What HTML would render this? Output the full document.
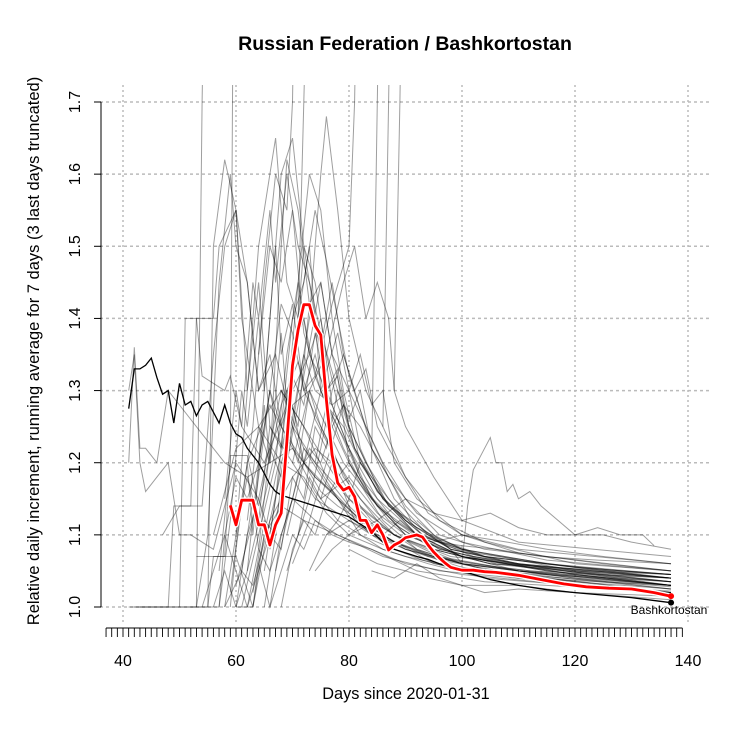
<!DOCTYPE html>
<html><head><meta charset="utf-8"><style>
html,body{margin:0;padding:0;background:#fff}
svg{display:block;font-family:"Liberation Sans",sans-serif}
</style></head><body>
<svg id="chart" width="750" height="750" viewBox="0 0 750 750" xmlns="http://www.w3.org/2000/svg">
<text x="405" y="50" text-anchor="middle" font-size="19.5" font-weight="bold">Russian Federation / Bashkortostan</text>
<text x="406" y="699" text-anchor="middle" font-size="16.3">Days since 2020-01-31</text>
<text transform="translate(39,351) rotate(-90)" text-anchor="middle" font-size="16.5">Relative daily increment, running average for 7 days (3 last days truncated)</text>
<g id="grid"></g>
<g id="axes"></g>
<defs><clipPath id="plotclip"><rect x="100" y="85" width="612" height="540"/></clipPath></defs>
<g id="series" clip-path="url(#plotclip)"></g>
<text x="669" y="614" text-anchor="middle" font-size="12">Bashkortostan</text>
</svg>
<script>
const xTicks=[40,60,80,100,120,140];
const yTicks=[1.0,1.1,1.2,1.3,1.4,1.5,1.6,1.7];
const yTickLabels=["1.0","1.1","1.2","1.3","1.4","1.5","1.6","1.7"];
const bashkDays=[59,60,61,62,63,64,65,66,67,68,69,70,71,72,73,74,75,76,77,78,79,80,81,82,83,84,85,86,87,88,89,90,91,92,93,94,95,96,97,98,99,100,102,104,106,110,114,118,122,126,130,134,137];
const bashkVals=[1.141,1.114,1.148,1.148,1.148,1.114,1.114,1.086,1.114,1.13,1.23,1.335,1.384,1.419,1.419,1.39,1.377,1.287,1.211,1.172,1.162,1.166,1.153,1.12,1.12,1.103,1.114,1.1,1.079,1.086,1.09,1.096,1.098,1.1,1.097,1.086,1.076,1.068,1.061,1.055,1.053,1.051,1.051,1.049,1.048,1.044,1.038,1.032,1.028,1.026,1.025,1.02,1.015];
const rusDays=[41,42,43,44,45,46,47,48,49,50,51,52,53,54,55,56,57,58,59,60,61,62,63,64,65,66,67,68,70,72,74,76,78,80,82,84,86,88,90,92,94,96,98,100,105,110,115,120,130,137];
const rusVals=[1.275,1.33,1.33,1.335,1.345,1.318,1.295,1.3,1.255,1.31,1.28,1.285,1.265,1.28,1.285,1.27,1.255,1.28,1.255,1.24,1.235,1.22,1.21,1.2,1.185,1.17,1.16,1.155,1.15,1.145,1.14,1.135,1.13,1.125,1.115,1.105,1.09,1.08,1.075,1.07,1.066,1.06,1.055,1.05,1.038,1.03,1.024,1.02,1.013,1.006];
const regions=[
[[41,1.2],[42,1.36],[43,1.22],[44,1.22],[46,1.2],[48,1.3],[50,1.28],[54,1.24],[58,1.2],[62,1.18],[66,1.2],[70,1.22],[74,1.18],[78,1.15],[82,1.12],[88,1.09],[95,1.07],[105,1.05],[120,1.035],[137,1.02]],
[[41,1.3],[42,1.35],[43,1.2],[44,1.16],[46,1.18],[48,1.2],[50,1.1],[52,1.1],[56,1.08],[60,1.2],[64,1.15],[68,1.3],[72,1.25],[76,1.2],[80,1.15],[86,1.1],[95,1.06],[110,1.04],[137,1.02]],
[[42,1.0],[48,1.0],[49,1.14],[52,1.14],[53,1.4],[56,1.4],[57,1.5],[60,1.55],[62,1.3],[64,1.45],[66,1.25],[70,1.2],[74,1.15],[80,1.12],[90,1.08],[100,1.06],[120,1.04],[137,1.03]],
[[43,1.0],[50,1.0],[51,1.4],[53,1.4],[54,1.32],[58,1.3],[59,1.32],[61,1.25],[65,1.2],[70,1.3],[73,1.35],[76,1.3],[80,1.22],[85,1.15],[92,1.1],[100,1.07],[115,1.05],[137,1.03]],
[[47,1.1],[50,1.14],[54,1.14],[56,1.35],[58,1.5],[60,1.55],[62,1.45],[64,1.3],[66,1.35],[68,1.25],[72,1.2],[78,1.15],[85,1.1],[95,1.07],[110,1.05],[137,1.03]],
[[52,1.0],[53,1.0],[54,1.7],[55,2.2]],
[[53,1.0],[55,1.1],[57,1.45],[59,1.6],[60,1.5],[62,1.45],[64,1.3],[67,1.35],[70,1.25],[74,1.2],[80,1.15],[88,1.1],[100,1.06],[120,1.04],[137,1.025]],
[[55,1.0],[56,1.5],[58,1.62],[60,1.55],[61,1.4],[64,1.25],[68,1.3],[72,1.22],[76,1.17],[82,1.12],[90,1.08],[105,1.05],[137,1.02]],
[[57,1.05],[59,1.2],[60,2.5]],
[[58,1.0],[60,1.1],[62,1.3],[64,1.5],[66,1.6],[67,1.65],[69,1.45],[71,1.4],[73,1.5],[75,1.3],[78,1.25],[82,1.18],[88,1.12],[95,1.08],[110,1.05],[137,1.03]],
[[59,1.02],[61,1.15],[63,1.25],[65,1.45],[67,1.6],[69,1.55],[70,1.7],[71,2.2]],
[[60,1.0],[62,1.05],[64,1.2],[66,1.4],[68,1.6],[70,1.65],[72,1.5],[74,1.4],[76,1.3],[78,1.32],[80,1.2],[84,1.15],[90,1.1],[100,1.07],[120,1.045],[137,1.03]],
[[60,1.03],[63,1.12],[66,1.3],[68,1.42],[70,1.38],[72,1.3],[74,1.35],[77,1.25],[80,1.2],[85,1.14],[92,1.1],[100,1.07],[115,1.05],[137,1.035]],
[[61,1.0],[64,1.1],[67,1.2],[69,1.35],[71,1.45],[73,1.6],[75,1.55],[77,1.4],[79,1.3],[82,1.2],[86,1.15],[92,1.1],[100,1.08],[120,1.05],[137,1.04]],
[[62,1.05],[65,1.15],[68,1.25],[70,1.3],[72,1.5],[74,1.45],[76,1.35],[78,1.28],[81,1.22],[85,1.16],[90,1.12],[98,1.08],[110,1.06],[137,1.04]],
[[63,1.0],[66,1.12],[69,1.22],[72,1.35],[74,1.3],[77,1.28],[80,1.3],[82,1.22],[86,1.15],[92,1.1],[100,1.07],[137,1.03]],
[[64,1.06],[67,1.18],[70,1.28],[73,1.3],[76,1.25],[79,1.2],[82,1.17],[86,1.12],[92,1.08],[100,1.06],[137,1.03]],
[[65,1.0],[67,1.1],[69,1.2],[71,1.4],[72,1.7],[73,2.0]],
[[66,1.08],[69,1.2],[72,1.32],[75,1.45],[77,1.35],[80,1.3],[83,1.25],[86,1.2],[90,1.15],[96,1.1],[104,1.08],[137,1.05]],
[[67,1.1],[70,1.25],[73,1.4],[75,1.6],[76,1.68],[78,1.55],[80,1.4],[83,1.3],[86,1.25],[90,1.18],[96,1.12],[104,1.09],[120,1.06],[137,1.05]],
[[69,1.1],[72,1.2],[75,1.3],[78,1.38],[80,1.3],[82,1.35],[84,1.28],[86,1.3],[88,1.2],[92,1.15],[100,1.1],[110,1.08],[137,1.06]],
[[70,1.2],[73,1.3],[76,1.35],[79,1.45],[81,1.5],[83,1.4],[85,1.45],[87,1.4],[88,1.3],[90,1.25],[95,1.18],[100,1.12],[110,1.09],[137,1.07]],
[[70,1.06],[73,1.12],[76,1.2],[79,1.28],[82,1.25],[84,1.22],[87,1.18],[90,1.14],[95,1.1],[100,1.08],[115,1.06],[137,1.04]],
[[72,1.3],[74,1.32],[77,1.42],[80,1.5],[81,1.7],[82,2.2]],
[[84,1.2],[85,1.7],[86,2.2]],
[[86,1.25],[87,1.7],[88,2.2]],
[[88,1.3],[89,1.7],[90,2.2]],
[[92,1.12],[98,1.08],[100,1.06],[101,1.14],[102,1.19],[104,1.22],[105,1.235],[106,1.2],[107,1.2],[108,1.16],[109,1.17],[110,1.15],[112,1.16],[114,1.14],[117,1.12],[120,1.1],[124,1.11],[128,1.1],[132,1.1],[134,1.085]],
[[80,1.1],[85,1.12],[90,1.15],[95,1.13],[100,1.12],[105,1.13],[110,1.11],[115,1.1],[120,1.1],[125,1.1],[130,1.09],[137,1.08]],
[[75,1.15],[80,1.18],[85,1.13],[90,1.1],[95,1.09],[100,1.1],[108,1.09],[115,1.08],[125,1.07],[137,1.06]],
[[80,1.08],[85,1.06],[90,1.05],[94,1.04],[100,1.03],[110,1.03],[120,1.02],[137,1.01]],
[[84,1.05],[88,1.04],[92,1.06],[96,1.04],[104,1.02],[110,1.025],[120,1.02],[137,1.015]],
[[74,1.2],[78,1.15],[82,1.1],[86,1.08],[90,1.07],[96,1.06],[104,1.05],[114,1.045],[126,1.04],[137,1.035]],
[[68,1.3],[72,1.25],[76,1.18],[80,1.14],[84,1.11],[88,1.09],[94,1.07],[102,1.06],[112,1.05],[124,1.045],[137,1.04]],
[[62,1.2],[66,1.28],[70,1.22],[74,1.16],[78,1.12],[82,1.1],[88,1.08],[96,1.06],[106,1.045],[120,1.035],[137,1.025]],
[[56,1.1],[60,1.22],[64,1.25],[68,1.2],[72,1.18],[76,1.13],[80,1.1],[86,1.08],[94,1.06],[104,1.04],[120,1.03],[137,1.02]],
[[50,1.0],[57,1.0],[58,1.1],[62,1.0],[64,1.08],[66,1.05],[70,1.15],[74,1.12],[78,1.1],[84,1.08],[92,1.05],[104,1.035],[137,1.02]],
[[41,1.0],[55,1.0],[56,1.07],[60,1.07],[63,1.0],[65,1.1],[68,1.14],[72,1.12],[78,1.1],[86,1.07],[96,1.05],[137,1.02]],
[[58,1.0],[61,1.05],[63,1.03],[66,1.12],[70,1.18],[74,1.22],[77,1.2],[80,1.16],[84,1.12],[88,1.1],[95,1.08],[105,1.06],[137,1.045]],
[[53,1.07],[58,1.07],[59,1.21],[62,1.21],[64,1.14],[68,1.28],[71,1.34],[74,1.26],[78,1.2],[82,1.15],[88,1.1],[98,1.07],[137,1.035]],
[[73,1.05],[76,1.1],[80,1.12],[84,1.1],[88,1.09],[92,1.1],[96,1.08],[102,1.07],[110,1.06],[122,1.05],[137,1.045]],
[[64,1.35],[66,1.5],[68,1.45],[70,1.55],[72,1.38],[75,1.3],[79,1.22],[83,1.16],[88,1.12],[96,1.08],[108,1.06],[137,1.04]],
[[57,1.0],[59,1.12],[61,1.3],[62,1.25],[64,1.4],[65,1.3],[67,1.5],[68,1.35],[70,1.42],[72,1.3],[75,1.25],[78,1.2],[82,1.14],[88,1.1],[96,1.07],[110,1.05],[137,1.035]],
[[59,1.0],[60,1.08],[62,1.2],[63,1.1],[65,1.28],[66,1.2],[68,1.38],[69,1.28],[71,1.45],[73,1.35],[75,1.4],[77,1.28],[80,1.22],[84,1.15],[90,1.1],[100,1.07],[120,1.045],[137,1.03]],
[[61,1.05],[63,1.15],[64,1.08],[66,1.22],[68,1.18],[70,1.32],[72,1.28],[74,1.38],[76,1.3],[78,1.33],[80,1.25],[83,1.2],[87,1.14],[93,1.1],[102,1.07],[118,1.05],[137,1.035]],
[[62,1.0],[64,1.05],[66,1.1],[68,1.08],[70,1.18],[72,1.15],[74,1.25],[76,1.22],[78,1.3],[80,1.26],[82,1.3],[84,1.22],[87,1.18],[91,1.12],[98,1.08],[110,1.06],[137,1.04]],
[[63,1.02],[65,1.12],[67,1.1],[69,1.25],[71,1.2],[73,1.3],[75,1.25],[77,1.22],[79,1.18],[82,1.15],[86,1.11],[92,1.08],[100,1.06],[115,1.045],[137,1.03]],
[[65,1.05],[67,1.15],[69,1.3],[71,1.25],[73,1.42],[75,1.36],[77,1.45],[79,1.35],[81,1.3],[84,1.22],[88,1.15],[94,1.1],[104,1.07],[125,1.05],[137,1.04]],
[[66,1.0],[68,1.1],[70,1.15],[72,1.22],[74,1.2],[76,1.28],[78,1.25],[80,1.22],[82,1.18],[85,1.14],[89,1.11],[95,1.08],[105,1.06],[137,1.035]],
[[58,1.15],[60,1.3],[61,1.25],[63,1.45],[64,1.4],[66,1.55],[67,1.45],[69,1.6],[71,1.5],[73,1.45],[75,1.38],[78,1.3],[81,1.22],[85,1.16],[90,1.12],[98,1.08],[112,1.055],[137,1.04]],
[[56,1.0],[58,1.05],[60,1.0],[62,1.1],[64,1.15],[66,1.1],[68,1.2],[70,1.25],[72,1.2],[74,1.18],[77,1.16],[80,1.13],[84,1.1],[90,1.08],[100,1.055],[118,1.04],[137,1.025]],
[[60,1.1],[62,1.18],[64,1.12],[66,1.25],[68,1.22],[70,1.35],[72,1.4],[74,1.32],[76,1.28],[79,1.25],[82,1.2],[86,1.15],[92,1.11],[100,1.08],[115,1.06],[137,1.045]],
[[67,1.05],[69,1.12],[71,1.18],[73,1.22],[75,1.2],[77,1.25],[79,1.28],[81,1.22],[84,1.18],[87,1.14],[91,1.12],[96,1.09],[104,1.07],[120,1.055],[137,1.045]],
[[68,1.0],[70,1.08],[72,1.12],[74,1.1],[76,1.15],[78,1.18],[80,1.2],[82,1.17],[84,1.15],[87,1.12],[91,1.1],[97,1.08],[106,1.06],[125,1.045],[137,1.04]],
[[71,1.1],[73,1.15],[75,1.22],[77,1.3],[79,1.35],[81,1.3],[83,1.33],[85,1.25],[87,1.22],[90,1.18],[94,1.13],[100,1.1],[110,1.075],[125,1.06],[137,1.05]],
[[64,1.2],[66,1.3],[68,1.25],[70,1.4],[72,1.45],[74,1.55],[76,1.48],[78,1.4],[80,1.32],[83,1.25],[87,1.18],[92,1.13],[100,1.09],[115,1.065],[137,1.05]],
[[76,1.1],[78,1.12],[80,1.15],[82,1.2],[84,1.18],[86,1.16],[88,1.14],[90,1.12],[93,1.1],[97,1.085],[104,1.07],[115,1.06],[128,1.05],[137,1.045]],
[[60,1.0],[63,1.0],[64,1.06],[66,1.0],[68,1.05],[70,1.1],[72,1.08],[74,1.12],[77,1.1],[80,1.09],[84,1.08],[90,1.06],[100,1.045],[120,1.03],[137,1.022]],
[[54,1.0],[56,1.05],[58,1.1],[60,1.18],[62,1.15],[64,1.2],[66,1.3],[68,1.22],[70,1.28],[72,1.2],[75,1.16],[78,1.14],[82,1.12],[88,1.09],[96,1.065],[110,1.045],[137,1.028]],
[[69,1.05],[71,1.1],[73,1.18],[75,1.15],[77,1.2],[79,1.16],[81,1.12],[84,1.1],[88,1.08],[93,1.065],[100,1.05],[112,1.04],[137,1.03]],
[[62,1.12],[64,1.25],[66,1.2],[68,1.5],[69,1.62],[71,1.55],[73,1.42],[75,1.45],[77,1.35],[80,1.25],[83,1.2],[87,1.15],[93,1.1],[102,1.075],[120,1.055],[137,1.045]],
[[74,1.05],[77,1.08],[80,1.1],[83,1.12],[86,1.1],[89,1.12],[92,1.1],[96,1.09],[100,1.085],[106,1.08],[114,1.07],[124,1.065],[137,1.06]]
];
const X0=40,X1=140,PX0=123,PX1=688,Y0=1.0,Y1=1.7,PY0=607,PY1=102;
const xs=d=>PX0+(d-X0)*(PX1-PX0)/(X1-X0);
const ys=v=>PY0+(v-Y0)*(PY1-PY0)/(Y1-Y0);
const NS="http://www.w3.org/2000/svg";
function mk(tag,attrs,parent){const e=document.createElementNS(NS,tag);for(const k in attrs)e.setAttribute(k,attrs[k]);parent.appendChild(e);return e;}
const grid=document.getElementById('grid'),axes=document.getElementById('axes'),series=document.getElementById('series');
xTicks.forEach(t=>{const l=mk('line',{x1:xs(t),x2:xs(t),y1:85,y2:625,stroke:'#bbb','stroke-dasharray':'2,3','stroke-width':1.5},grid);

});
yTicks.forEach(t=>{const l=mk('line',{x1:100,x2:712,y1:ys(t),y2:ys(t),stroke:'#bbb','stroke-dasharray':'3,3','stroke-width':1.5},grid);

});
const ya=mk('line',{x1:101,x2:101,y1:ys(1.7),y2:ys(1.0),stroke:'#000'},axes);


yTicks.forEach((t,i)=>{mk('line',{x1:94,x2:101,y1:ys(t),y2:ys(t),stroke:'#000'},axes);
const tx=mk('text',{transform:`translate(80,${ys(t)}) rotate(-90)`,'text-anchor':'middle','font-size':16},axes);tx.textContent=yTickLabels[i];

});
const xa=mk('line',{x1:xs(37),x2:xs(139),y1:628,y2:628,stroke:'#000'},axes);


for(let d=37;d<=139;d++)mk('line',{x1:xs(d),x2:xs(d),y1:628,y2:637,stroke:'#000','stroke-width':0.9},axes);
xTicks.forEach(t=>{const tx=mk('text',{x:xs(t),y:666,'text-anchor':'middle','font-size':16},axes);tx.textContent=t;

});
const pts=(d,v)=>d.map((x,i)=>xs(x).toFixed(1)+','+ys(v[i]).toFixed(1)).join(' ');
regions.forEach(r=>{const p=mk('polyline',{points:r.map(q=>xs(q[0]).toFixed(1)+','+ys(q[1]).toFixed(1)).join(' '),fill:'none',stroke:'rgba(0,0,0,0.38)','stroke-width':1},series);

});
const rl=mk('polyline',{points:pts(rusDays,rusVals),fill:'none',stroke:'#000','stroke-width':1.3},series);


const bw=mk('polyline',{points:pts(bashkDays,bashkVals),fill:'none',stroke:'#fff','stroke-width':5.5,'stroke-linejoin':'round'},series);


const bl=mk('polyline',{points:pts(bashkDays,bashkVals),fill:'none',stroke:'#f00','stroke-width':2.8,'stroke-linejoin':'round'},series);


const rd=mk('circle',{cx:xs(rusDays[rusDays.length-1]),cy:ys(rusVals[rusVals.length-1]),r:3,fill:'#000'},series);


const bd=mk('circle',{cx:xs(bashkDays[bashkDays.length-1]),cy:ys(bashkVals[bashkVals.length-1]),r:3,fill:'#f00'},series);


</script>
</body></html>
